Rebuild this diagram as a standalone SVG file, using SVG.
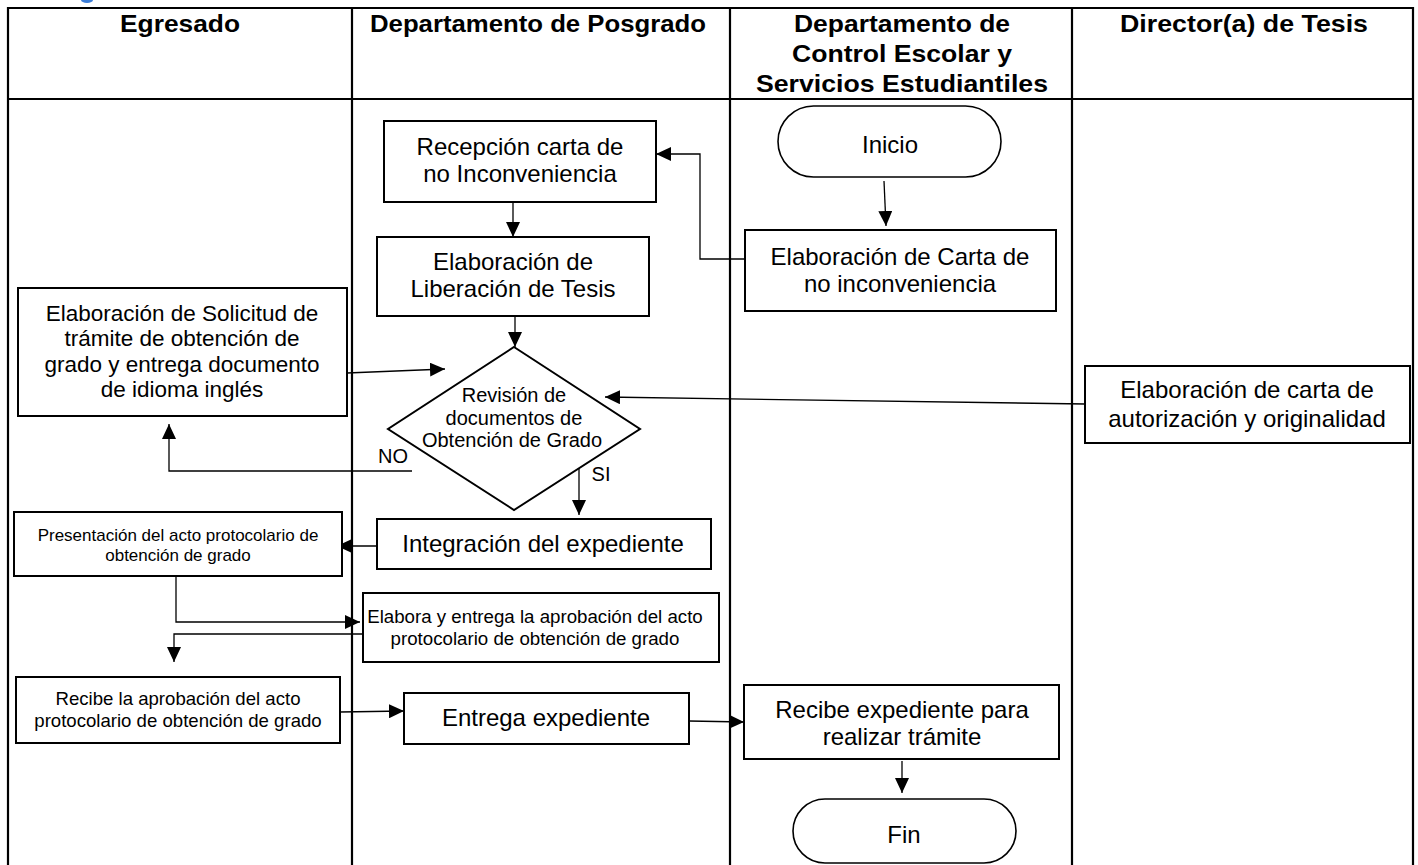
<svg xmlns="http://www.w3.org/2000/svg" width="1418" height="865" viewBox="0 0 1418 865">
<style>
.grid{stroke:#000;stroke-width:2.2;fill:none}
.box{fill:#fff;stroke:#000;stroke-width:2}
.term{fill:#fff;stroke:#000;stroke-width:1.6}
.hdr{font-family:"Liberation Sans",Arial,sans-serif;font-weight:bold;font-size:24px;text-anchor:middle;fill:#000}
.t{font-family:"Liberation Sans",Arial,sans-serif;font-size:24px;text-anchor:middle;fill:#000}
.con{stroke:#000;stroke-width:1.3;fill:none;marker-end:url(#ah)}
</style>
<defs>
<marker id="ah" markerUnits="userSpaceOnUse" markerWidth="16" markerHeight="14" refX="15" refY="7" orient="auto">
<path d="M0,0 L15,7 L0,14 Z" fill="#000"/>
</marker>
</defs>
<rect width="1418" height="865" fill="#fff"/>
<ellipse cx="87" cy="0" rx="6" ry="3" fill="#3b7dd8"/>
<g id="table">
<path class="grid" d="M8,870 V8 H1413 V870 M8,99 H1413 M352,8 V870 M730,8 V870 M1072,8 V870"/>
<text class="hdr" x="180" y="32" textLength="120" lengthAdjust="spacingAndGlyphs">Egresado</text>
<text class="hdr" x="538" y="32" textLength="336" lengthAdjust="spacingAndGlyphs">Departamento de Posgrado</text>
<text class="hdr" x="902" y="32" textLength="216" lengthAdjust="spacingAndGlyphs">Departamento de</text>
<text class="hdr" x="902" y="62" textLength="220" lengthAdjust="spacingAndGlyphs">Control Escolar y</text>
<text class="hdr" x="902" y="92" textLength="292" lengthAdjust="spacingAndGlyphs">Servicios Estudiantiles</text>
<text class="hdr" x="1244" y="32" textLength="248" lengthAdjust="spacingAndGlyphs">Director(a) de Tesis</text>
</g>
<g id="connectors">
<path class="con" d="M884,181 L886,226"/>
<path class="con" d="M745,259 H700 V154 H656"/>
<path class="con" d="M513,202 V237"/>
<path class="con" d="M515,316 V347"/>
<path class="con" d="M347,373 L445,369"/>
<path class="con" d="M1085,404 L605,397"/>
<path class="con" d="M412,471 H169 V424"/>
<path class="con" d="M579,468 V515"/>
<path class="con" d="M377,546 H337"/>
<path class="con" d="M165,574 H176 V622 H360"/>
<path class="con" d="M363,634 H174 V662"/>
<path class="con" d="M340,712 L404,711"/>
<path class="con" d="M689,721 L744,722"/>
<path class="con" d="M902,761 V793"/>
</g>
<g id="inicio">
<rect class="term" x="778" y="106" width="223" height="71" rx="35.5"/>
<text class="t" x="890" y="153">Inicio</text>
</g>
<g id="carta">
<rect class="box" x="745" y="230" width="311" height="81"/>
<text class="t" x="900" y="265">Elaboración de Carta de</text>
<text class="t" x="900" y="292">no inconveniencia</text>
</g>
<g id="recepcion">
<rect class="box" x="384" y="121" width="272" height="81"/>
<text class="t" x="520" y="155">Recepción carta de</text>
<text class="t" x="520" y="182">no Inconveniencia</text>
</g>
<g id="liberacion">
<rect class="box" x="377" y="237" width="272" height="79"/>
<text class="t" x="513" y="270">Elaboración de</text>
<text class="t" x="513" y="297">Liberación de Tesis</text>
</g>
<g id="solicitud">
<rect class="box" x="18" y="288" width="329" height="128"/>
<text class="t" x="182" y="321" style="font-size:22.5px">Elaboración de Solicitud de</text>
<text class="t" x="182" y="346" style="font-size:22.5px">trámite de obtención de</text>
<text class="t" x="182" y="372" style="font-size:22.5px">grado y entrega documento</text>
<text class="t" x="182" y="397" style="font-size:22.5px">de idioma inglés</text>
</g>
<g id="revision">
<path class="box" d="M514,347 L640,429 L514,510 L388,429 Z"/>
<text class="t" x="514" y="402" style="font-size:20px">Revisión de</text>
<text class="t" x="514" y="425" style="font-size:20px">documentos de</text>
<text class="t" x="512" y="447" style="font-size:20px">Obtención de Grado</text>
</g>
<g id="labels">
<text class="t" x="393" y="463" style="font-size:20px">NO</text>
<text class="t" x="601" y="481" style="font-size:20px">SI</text>
</g>
<g id="director">
<rect class="box" x="1085" y="366" width="325" height="77"/>
<text class="t" x="1247" y="398">Elaboración de carta de</text>
<text class="t" x="1247" y="427">autorización y originalidad</text>
</g>
<g id="integracion">
<rect class="box" x="377" y="519" width="334" height="50"/>
<text class="t" x="543" y="552">Integración del expediente</text>
</g>
<g id="presentacion">
<rect class="box" x="14" y="512" width="328" height="64"/>
<text class="t" x="178" y="541" style="font-size:17px">Presentación del acto protocolario de</text>
<text class="t" x="178" y="561" style="font-size:17px">obtención de grado</text>
</g>
<g id="elabora">
<rect class="box" x="363" y="593" width="356" height="69"/>
<text class="t" x="535" y="623" style="font-size:18.7px">Elabora y entrega la aprobación del acto</text>
<text class="t" x="535" y="645" style="font-size:18.7px">protocolario de obtención de grado</text>
</g>
<g id="recibe-aprobacion">
<rect class="box" x="16" y="677" width="324" height="66"/>
<text class="t" x="178" y="705" style="font-size:18.6px">Recibe la aprobación del acto</text>
<text class="t" x="178" y="727" style="font-size:18.6px">protocolario de obtención de grado</text>
</g>
<g id="entrega">
<rect class="box" x="404" y="693" width="285" height="51"/>
<text class="t" x="546" y="726">Entrega expediente</text>
</g>
<g id="recibe-expediente">
<rect class="box" x="744" y="685" width="315" height="74"/>
<text class="t" x="902" y="718">Recibe expediente para</text>
<text class="t" x="902" y="745">realizar trámite</text>
</g>
<g id="fin">
<rect class="term" x="793" y="799" width="223" height="64" rx="32"/>
<text class="t" x="904" y="843">Fin</text>
</g>
</svg>
